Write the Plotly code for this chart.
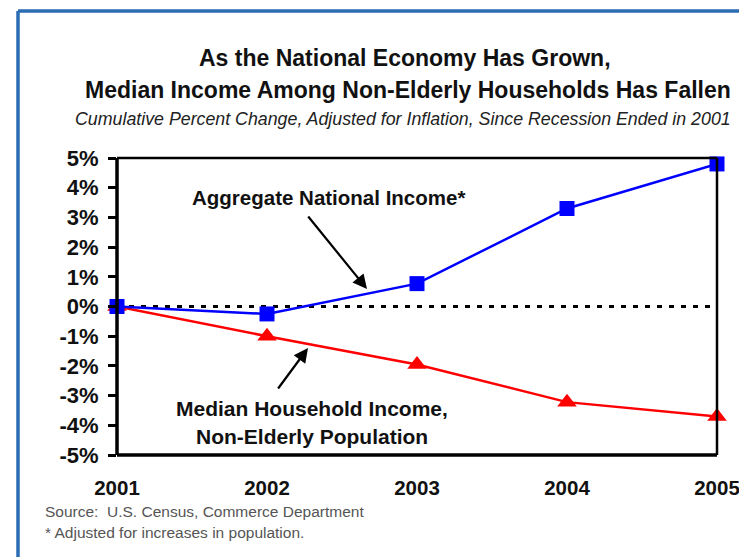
import plotly.graph_objects as go

years = [2001, 2002, 2003, 2004, 2005]
aggregate_income = [0.0, -0.25, 0.77, 3.3, 4.8]
median_income = [0.0, -1.0, -1.95, -3.22, -3.7]
y_tickvals = [5, 4, 3, 2, 1, 0, -1, -2, -3, -4, -5]
y_ticktext = ["5%", "4%", "3%", "2%", "1%", "0%", "-1%", "-2%", "-3%", "-4%", "-5%"]
x_ticktext = ["2001", "2002", "2003", "2004", "2005"]

FONT = "Liberation Sans, Arial, sans-serif"
W, H = 739, 557
PLOT_L, PLOT_R, PLOT_T, PLOT_B = 117, 717, 158, 455   # pixels of the plot box
L, R, T, B = PLOT_L, W - PLOT_R, PLOT_T, H - PLOT_B
PW, PH = W - L - R, H - T - B


def px(x):
    return (x - L) / PW


def py(y):
    return (H - B - y) / PH


fig = go.Figure()

# zero reference line
fig.add_trace(go.Scatter(
    x=[years[0], years[-1]], y=[0, 0], mode="lines",
    line=dict(color="black", width=3, dash="5px,7px"),
    hoverinfo="skip", showlegend=False, cliponaxis=False))

fig.add_trace(go.Scatter(
    x=years, y=median_income, mode="lines+markers",
    line=dict(color="#ff0000", width=2.5),
    marker=dict(symbol="triangle-up", size=17, color="#ff0000"),
    showlegend=False, cliponaxis=False))

fig.add_trace(go.Scatter(
    x=years, y=aggregate_income, mode="lines+markers",
    line=dict(color="#0000ff", width=2.5),
    marker=dict(symbol="square", size=15, color="#0000ff"),
    showlegend=False, cliponaxis=False))

# plot frame
fig.add_shape(type="line", xref="paper", yref="paper", x0=0, x1=0, y0=0, y1=1,
              line=dict(color="black", width=3.5))
fig.add_shape(type="line", xref="paper", yref="paper", x0=0, x1=1, y0=0, y1=0,
              line=dict(color="black", width=3.5))
fig.add_shape(type="line", xref="paper", yref="paper", x0=0, x1=1, y0=1, y1=1,
              line=dict(color="black", width=2.5))
fig.add_shape(type="line", xref="paper", yref="paper", x0=1, x1=1, y0=0, y1=1,
              line=dict(color="black", width=2.5))

# outer blue page border
fig.add_shape(type="line", xref="paper", yref="paper", x0=px(18), x1=px(760),
              y0=py(11), y1=py(11), line=dict(color="#2a6db5", width=3.5))
fig.add_shape(type="line", xref="paper", yref="paper", x0=px(18), x1=px(18),
              y0=py(11), y1=py(580), line=dict(color="#2a6db5", width=3.5))

ann = []
ann.append(dict(text="<b>As the National Economy Has Grown,</b>", x=px(405), y=py(58),
                font=dict(size=23, color="#111111")))
ann.append(dict(text="<b>Median Income Among Non-Elderly Households Has Fallen</b>", x=px(408), y=py(90),
                font=dict(size=23, color="#111111")))
ann.append(dict(text="<i>Cumulative Percent Change, Adjusted for Inflation, Since Recession Ended in 2001</i>",
                x=px(403), y=py(119), font=dict(size=17.8, color="#222222")))
ann.append(dict(text="<b>Aggregate National Income*</b>", x=px(328), y=py(197),
                font=dict(size=20.5, color="#111111")))
ann.append(dict(text="<b>Median Household Income,</b>", x=px(312), y=py(408),
                font=dict(size=21, color="#111111")))
ann.append(dict(text="<b>Non-Elderly Population</b>", x=px(312), y=py(436),
                font=dict(size=21, color="#111111")))
ann.append(dict(text="Source:  U.S. Census, Commerce Department", x=px(43), y=py(512),
                xanchor="left", font=dict(size=15.5, color="#555555")))
ann.append(dict(text="* Adjusted for increases in population.", x=px(43), y=py(532),
                xanchor="left", font=dict(size=15.5, color="#555555")))
for a in ann:
    a.setdefault("xanchor", "center")
    a.update(xref="paper", yref="paper", yanchor="middle", showarrow=False)
    a["font"]["family"] = FONT
    fig.add_annotation(**a)

# arrows
for (hx, hy, tx, ty) in [(367, 289, 307, 215), (308, 348, 277, 390)]:
    fig.add_annotation(x=px(hx), y=py(hy), ax=px(tx), ay=py(ty),
                       xref="x domain", yref="y domain",
                       axref="x domain", ayref="y domain", text="", showarrow=True,
                       arrowhead=2, arrowsize=1.3, arrowwidth=2.2, arrowcolor="black")

fig.update_xaxes(range=[2001, 2005], tickvals=years, ticktext=x_ticktext,
                 showgrid=False, zeroline=False, showline=False, ticks="",
                 automargin=False,
                 ticklabelstandoff=18, ticklabeloverflow="allow",
                 tickfont=dict(family=FONT, size=20.5, color="#111111", weight="bold"))
fig.update_yaxes(range=[-5, 5], tickvals=y_tickvals, ticktext=y_ticktext,
                 showgrid=False, zeroline=False, showline=False,
                 automargin=False,
                 ticks="outside", ticklen=8, tickwidth=2.5, tickcolor="black",
                 ticklabelstandoff=5,
                 tickfont=dict(family=FONT, size=22, color="#111111", weight="bold"))

fig.update_layout(width=W, height=H, margin=dict(l=L, r=R, t=T, b=B),
                  paper_bgcolor="white", plot_bgcolor="white",
                  showlegend=False)

fig.write_html("out.html", config={"displayModeBar": False},
               post_script="document.body.style.margin='0px';"
                           "document.body.style.overflow='hidden';")
